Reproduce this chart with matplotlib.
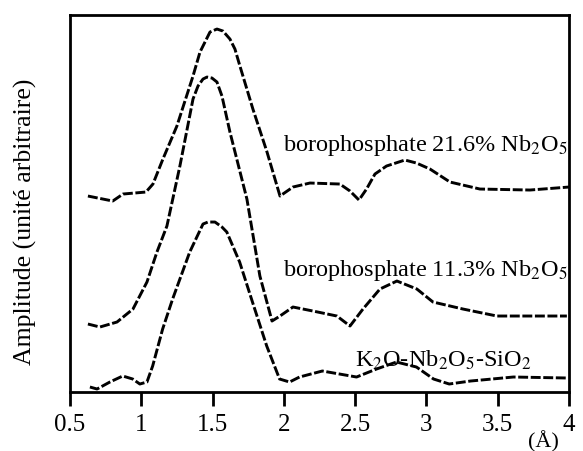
import matplotlib.pyplot as plt

plt.rcParams['font.family'] = ['Liberation Serif', 'DejaVu Serif']
plt.rcParams['mathtext.fontset'] = 'stix'

# courbe borophosphate 21.6% Nb2O5
r_216 = [0.626, 0.80, 0.872, 1.033, 1.082, 1.152, 1.25, 1.363, 1.412, 1.482, 1.531, 1.573,
         1.622, 1.657, 1.692, 1.783, 1.882, 1.973, 2.064, 2.183, 2.393, 2.464, 2.527, 2.58,
         2.639, 2.72, 2.849, 2.93, 3.025, 3.165, 3.375, 3.726, 4.0]
a_216 = [196, 191, 198, 200, 208, 233, 266, 316, 340, 360, 363, 361,
         353, 343, 326, 283, 240, 196, 205, 209, 208, 201, 192, 203,
         218, 226, 232, 229, 223, 210, 203, 202, 205]

# courbe borophosphate 11.3% Nb2O5
r_113 = [0.626, 0.71, 0.83, 0.942, 1.04, 1.11, 1.18, 1.271, 1.363, 1.398, 1.433, 1.461,
         1.496, 1.531, 1.566, 1.622, 1.741, 1.832, 1.917, 1.973, 2.064, 2.204, 2.372, 2.464,
         2.555, 2.674, 2.793, 2.933, 3.046, 3.256, 3.494, 3.985]
a_113 = [68, 65, 70, 83, 110, 140, 166, 226, 293, 306, 313, 315,
         314, 310, 296, 260, 193, 116, 71, 76, 85, 81, 76, 66,
         83, 103, 111, 103, 90, 83, 76, 76]

# courbe K2O-Nb2O5-SiO2
r_k = [0.64, 0.69, 0.78, 0.87, 0.94, 0.99, 1.04, 1.08, 1.15, 1.22, 1.34, 1.433, 1.468,
       1.517, 1.566, 1.60, 1.69, 1.78, 1.88, 1.97, 2.04, 2.11, 2.27, 2.39, 2.51, 2.65,
       2.79, 2.93, 3.05, 3.16, 3.31, 3.61, 3.99]
a_k = [5, 3, 10, 16, 13, 8, 10, 26, 63, 93, 140, 168, 170,
       170, 165, 160, 130, 90, 46, 13, 10, 15, 21, 18, 15, 23,
       30, 25, 13, 8, 11, 15, 14]

xticks = [0.5, 1, 1.5, 2, 2.5, 3, 3.5, 4]
xticklabels = ['0.5', '1', '1.5', '2', '2.5', '3', '3.5', '4']

fig = plt.figure(figsize=(5.83, 4.52), dpi=100)
ax = fig.add_axes([0.120, 0.1305, 0.856, 0.834])

for r, a in [(r_216, a_216), (r_113, a_113), (r_k, a_k)]:
    ax.plot(r, a, color='black', lw=2.1, dashes=(3.4, 0.9))

ax.set_xlim(0.5, 4)
ax.set_ylim(0, 377)
ax.set_xticks(xticks)
ax.set_xticklabels(xticklabels, fontsize=18)
ax.set_yticks([])
ax.tick_params(axis='x', direction='out', length=10, width=2, pad=5)
for s in ax.spines.values():
    s.set_linewidth(2)

ax.set_ylabel('Amplitude (unité arbitraire)', fontsize=18.5)
ax.yaxis.set_label_coords(-0.066, 0.454)

ax.text(3.99, 248, 'borophosphate 21.6% Nb$_2$O$_5$', fontsize=17.5, ha='right', va='center')
ax.text(3.99, 123, 'borophosphate 11.3% Nb$_2$O$_5$', fontsize=17.5, ha='right', va='center')
ax.text(3.12, 33, 'K$_2$O-Nb$_2$O$_5$-SiO$_2$', fontsize=17.5, ha='center', va='center')
ax.text(3.82, -49, '(Å)', fontsize=16, ha='center', va='center')

fig.savefig('out.png', dpi=100)
